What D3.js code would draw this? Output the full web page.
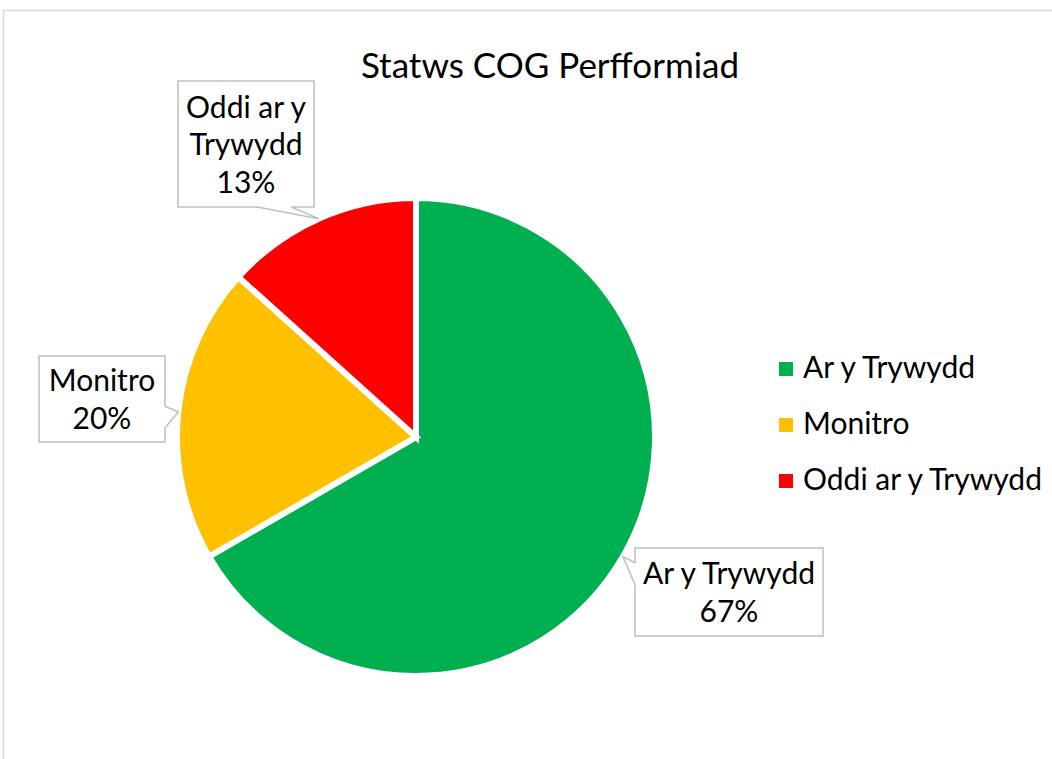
<!DOCTYPE html>
<html>
<head>
<meta charset="utf-8">
<script src="https://cdn.jsdelivr.net/npm/d3@7"></script>
<style>
    body { margin: 0; background: #fff; }
    text { font-family: Lato, "Open Sans", sans-serif; fill: #000; }
</style>
</head>
<body>
<svg id="chart" width="1052" height="759"></svg>
<script>
// data
var categories = ["Ar y Trywydd", "Monitro", "Oddi ar y Trywydd"];
var counts = [10, 3, 2];
var colours = ["#00B050", "#FFC000", "#FF0000"];
var chartTitle = "Statws COG Perfformiad";

var width = 1052, height = 759;
var cx = 416, cy = 437, radius = 239;

// callout boxes (centre, size) for each slice, in the same order as categories
var labelBoxes = [
    {x: 729, y: 592, w: 188, h: 88},
    {x: 102, y: 399, w: 126, h: 86},
    {x: 246, y: 144, w: 136, h: 126}
];

var svg = d3.select('#chart');

// chart area border (runs off the right and bottom)
svg.append('rect')
    .attr('x', 3.5).attr('y', 10.5)
    .attr('width', 1200).attr('height', 900)
    .attr('fill', '#fff')
    .attr('stroke', '#d9d9d9')
    .attr('stroke-width', 1.5);

svg.append('text')
    .attr('x', 550).attr('y', 78)
    .attr('text-anchor', 'middle')
    .style('font-size', '35px')
    .text(chartTitle);

var total = d3.sum(counts);
var data = categories.map(function(c, i) { return {name: c, value: counts[i], colour: colours[i], box: labelBoxes[i]}; });

var pie = d3.pie().sort(null).value(function(d) { return d.value; });
var arc = d3.arc().innerRadius(0).outerRadius(radius);
var arcs = pie(data);

var g = svg.append('g').attr('transform', 'translate(' + cx + ',' + cy + ')');

g.selectAll('path.slice')
    .data(arcs)
    .enter().append('path')
    .attr('class', 'slice')
    .attr('d', arc)
    .attr('fill', function(d) { return d.data.colour; })
    .attr('stroke', '#fff')
    .attr('stroke-width', 6)
    .attr('stroke-linejoin', 'miter');

// callouts
var pct = function(v) { return Math.round(v / total * 100) + '%'; };
var fontSize = 30, lineH = 37.5;

function calloutPath(b, tip)
{
    var l = b.x - b.w / 2, r = b.x + b.w / 2, t = b.y - b.h / 2, bt = b.y + b.h / 2;
    var dx = (tip[0] - b.x) / (b.w / 2), dy = (tip[1] - b.y) / (b.h / 2);
    var pts;
    if(Math.abs(dy) >= Math.abs(dx))
    {
        var f = dx > 0 ? [7, 10] : [2, 5];
        var x1 = l + b.w * f[0] / 12, x2 = l + b.w * f[1] / 12;
        if(dy > 0)
            pts = [[l, t], [r, t], [r, bt], [x2, bt], tip, [x1, bt], [l, bt]];
        else
            pts = [[l, t], [x1, t], tip, [x2, t], [r, t], [r, bt], [l, bt]];
    }
    else
    {
        var fy = dy > 0 ? [7, 10] : [2, 5];
        var y1 = t + b.h * fy[0] / 12, y2 = t + b.h * fy[1] / 12;
        if(dx > 0)
            pts = [[l, t], [r, t], [r, y1], tip, [r, y2], [r, bt], [l, bt]];
        else
            pts = [[l, t], [r, t], [r, bt], [l, bt], [l, y2], tip, [l, y1]];
    }
    return 'M' + pts.map(function(p) { return p[0] + ',' + p[1]; }).join('L') + 'Z';
}

var labels = svg.append('g').attr('class', 'labels');

arcs.forEach(function(d)
{
    var b = d.data.box;
    var mid = (d.startAngle + d.endAngle) / 2;
    var tip = [cx + Math.sin(mid) * radius, cy - Math.cos(mid) * radius];

    labels.append('path')
        .attr('d', calloutPath(b, tip))
        .attr('fill', '#fff')
        .attr('stroke', '#bfbfbf')
        .attr('stroke-width', 1.5);

    var t = labels.append('text')
        .attr('text-anchor', 'middle')
        .style('font-size', fontSize + 'px');

    // wrap the category name to the box width
    var words = d.data.name.split(' '), lines = [], line = '';
    var probe = labels.append('text').style('font-size', fontSize + 'px');
    words.forEach(function(w)
    {
        var tryLine = line ? line + ' ' + w : w;
        probe.text(tryLine);
        if(line && probe.node().getComputedTextLength() > b.w - 10)
        {
            lines.push(line);
            line = w;
        }
        else line = tryLine;
    });
    lines.push(line);
    probe.remove();
    lines.push(pct(d.data.value));

    lines.forEach(function(s, i)
    {
        t.append('tspan')
            .attr('x', b.x)
            .attr('y', b.y + (i - (lines.length - 1) / 2) * lineH + 11)
            .text(s);
    });
});

// legend
var legend = svg.append('g').attr('class', 'legend');
var legendY = d3.scalePoint().domain(categories).range([369, 481]);

legend.selectAll('rect')
    .data(data)
    .enter().append('rect')
    .attr('x', 779)
    .attr('y', function(d) { return legendY(d.name) - 7; })
    .attr('width', 14).attr('height', 14)
    .attr('fill', function(d) { return d.colour; });

legend.selectAll('text')
    .data(data)
    .enter().append('text')
    .attr('x', 803)
    .attr('y', function(d) { return legendY(d.name) + 9; })
    .style('font-size', fontSize + 'px')
    .text(function(d) { return d.name; });
</script>
</body>
</html>
